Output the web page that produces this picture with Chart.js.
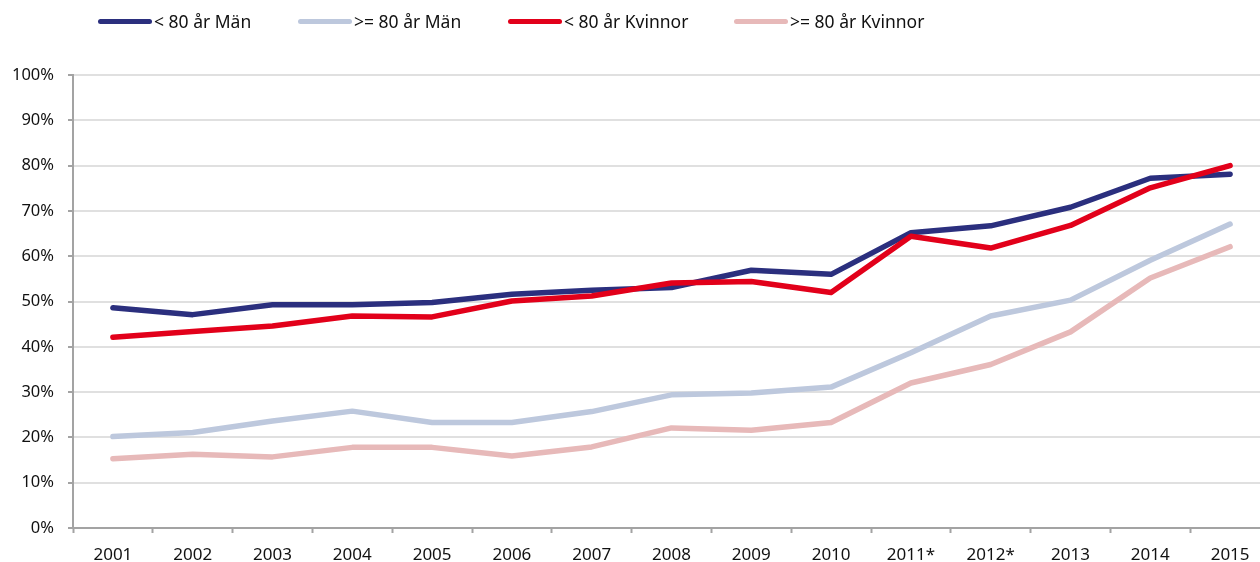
<!DOCTYPE html>
<html lang="sv">
<head>
<meta charset="utf-8">
<title>Andel per år</title>
<script src="https://cdn.jsdelivr.net/npm/chart.js@4/dist/chart.umd.min.js"></script>
<style>
    html, body {
        margin: 0;
        padding: 0;
        background: #fff;
        overflow: hidden;
        width: 1260px;
        height: 562px;
    }
    #wrap {
        position: relative;
        width: 1260px;
        height: 562px;
    }
    #chart {
        position: absolute;
        left: 0;
        top: 0;
    }
    #legend {
        position: absolute;
        left: 0;
        top: 0;
        width: 1260px;
        height: 44px;
        font-family: "Noto Sans", sans-serif;
        font-size: 17.5px;
        color: #111;
    }
    .item {
        position: absolute;
        top: 9px;
        display: flex;
        align-items: center;
        white-space: nowrap;
    }
    .swatch {
        width: 54px;
        height: 5px;
        border-radius: 3px;
        margin-right: 2px;
    }
</style>
</head>
<body>
<div id="wrap">
    <canvas id="chart" width="1270" height="562"></canvas>
    <div id="legend"></div>
</div>
<script>
// Years along the x axis
const years = ["2001", "2002", "2003", "2004", "2005", "2006", "2007", "2008",
    "2009", "2010", "2011*", "2012*", "2013", "2014", "2015"];

// Share in percent per group
const menUnder80 = [48.6, 47.1, 49.3, 49.3, 49.8, 51.6, 52.5, 53.1, 56.9, 56.0, 65.2, 66.7, 70.8, 77.2, 78.1];
const menOver80 = [20.2, 21.1, 23.6, 25.8, 23.3, 23.3, 25.7, 29.4, 29.8, 31.1, 38.7, 46.8, 50.3, 59.1, 67.1];
const womenUnder80 = [42.1, 43.4, 44.6, 46.8, 46.6, 50.1, 51.2, 54.1, 54.4, 52.0, 64.4, 61.8, 66.8, 75.1, 80.0];
const womenOver80 = [15.3, 16.3, 15.7, 17.8, 17.8, 15.9, 17.9, 22.1, 21.6, 23.3, 32.0, 36.1, 43.3, 55.2, 62.1];

const seriesLabels = ["< 80 år Män", ">= 80 år Män", "< 80 år Kvinnor", ">= 80 år Kvinnor"];
const yTicks = [0, 10, 20, 30, 40, 50, 60, 70, 80, 90, 100];

const colors = ["#2b2f7e", "#bdc8dd", "#e2001a", "#e7b9b9"];
const seriesData = [menUnder80, menOver80, womenUnder80, womenOver80];
// red line sits on top of the navy one
const drawOrder = [1, 3, 0, 2];

const axisGrey = "#a3a3a3";
const yFont = { family: "'Noto Sans', sans-serif", size: 16.5 };
const xFont = { family: "'Noto Sans', sans-serif", size: 17 };

let datasets = seriesData.map(function (values, i) {
    return {
        label: seriesLabels[i],
        data: values,
        borderColor: colors[i],
        backgroundColor: colors[i],
        borderWidth: 5.5,
        borderCapStyle: "round",
        borderJoinStyle: "round",
        pointRadius: 0,
        tension: 0,
        order: drawOrder[i]
    };
});

let chart = new Chart(document.getElementById("chart"), {
    type: "line",
    data: {
        labels: years,
        datasets: datasets
    },
    options: {
        responsive: false,
        animation: false,
        layout: {
            padding: { top: 75, left: 0, right: 0, bottom: 0 }
        },
        plugins: {
            legend: { display: false },
            tooltip: { enabled: false }
        },
        scales: {
            x: {
                offset: true,
                grid: {
                    offset: true,
                    drawOnChartArea: false,
                    drawTicks: true,
                    tickLength: 5,
                    tickColor: axisGrey,
                    tickWidth: 2
                },
                border: { color: axisGrey, width: 2 },
                ticks: {
                    color: "#111",
                    font: xFont,
                    padding: 12,
                    maxRotation: 0,
                    autoSkip: false
                },
                afterFit: function (scale) {
                    scale.height = 34;
                }
            },
            y: {
                min: 0,
                max: 100,
                afterBuildTicks: function (scale) {
                    scale.ticks = yTicks.map(function (v) { return { value: v }; });
                },
                grid: {
                    color: "#e0e0e0",
                    lineWidth: 2,
                    drawTicks: true,
                    tickLength: 5,
                    tickColor: axisGrey,
                    tickWidth: 2
                },
                border: { color: axisGrey, width: 2 },
                ticks: {
                    color: "#111",
                    font: yFont,
                    padding: 14,
                    callback: function (v) { return v + "%"; }
                },
                afterFit: function (scale) {
                    scale.width = 73;
                }
            }
        }
    }
});

// Legend above the plot, one swatch + label per series
const legendLeft = [98, 298, 508, 734];
let legendBox = document.getElementById("legend");
seriesLabels.forEach(function (label, i) {
    let item = document.createElement("div");
    item.className = "item";
    item.style.left = legendLeft[i] + "px";
    let swatch = document.createElement("span");
    swatch.className = "swatch";
    swatch.style.background = colors[i];
    let text = document.createElement("span");
    text.textContent = label;
    item.appendChild(swatch);
    item.appendChild(text);
    legendBox.appendChild(item);
});
</script>
</body>
</html>
